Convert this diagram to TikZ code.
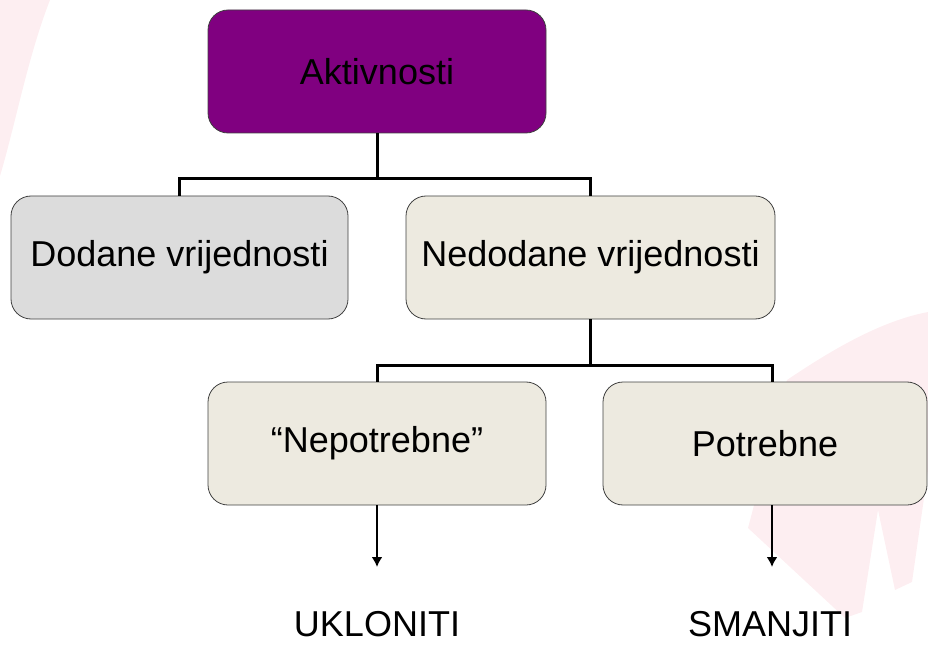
\documentclass[tikz,border=0pt]{standalone}
\usepackage{fontspec}
\setmainfont{Liberation Sans}
\usetikzlibrary{arrows.meta}
\definecolor{aktpurple}{HTML}{800080}
\definecolor{dodgray}{HTML}{DCDCDC}
\definecolor{nedbeige}{HTML}{EDEAE0}
\definecolor{bgpink}{HTML}{FDEEF1}
\tikzset{
	box/.style={draw=black!75, line width=0.8pt, rounded corners=20pt, inner sep=0pt, minimum height=123pt, font=\fontsize{36}{43}\selectfont},
	link/.style={line width=3pt},
	pointer/.style={line width=2.2pt, -{Latex[length=10pt,width=11pt]}},
	result/.style={inner sep=0pt, font=\fontsize{36}{43}\selectfont},
}

\begin{document}
\begin{tikzpicture}[x=1pt,y=1pt]
		%%%%% START %%%%%
		\useasboundingbox (0,0) rectangle (928,646);
		
		% background
		\fill[bgpink] (0,646) -- (50,646) .. controls (28,590) and (15,520) .. (0,470) -- cycle;
		\fill[bgpink] (748,118) -- (787,266) .. controls (830,295) and (880,325) .. (928,334) -- (928,176) -- (912,64) -- (895,56) -- (878,136) -- (862,34) -- (845,28) -- cycle;
		
		\node[box, fill=aktpurple, minimum width=338pt] (akt) at (377,574.5) {Aktivnosti};
		
		\node[box, fill=dodgray, minimum width=337pt] (dod) at (179.5,388.5) {Dodane vrijednosti};
		\node[box, fill=nedbeige, minimum width=369pt] (ned) at (590.5,388.5) {Nedodane vrijednosti};
		
		\node[box, fill=nedbeige, minimum width=338pt] (nep) at (377,202.5) {“Nepotrebne”};
		\node[box, fill=nedbeige, minimum width=324pt] (pot) at (765,202.5) {Potrebne};
		
		\node[result] (ukl) at (377,22) {UKLONITI};
		\node[result] (smn) at (770,22) {SMANJITI};
		
		\coordinate (bar1) at (377,467);
		\coordinate (bar2) at (590.5,281);
		\coordinate (potin) at (772,264);
		\coordinate (potout) at (772,141);
		\coordinate (uklin) at (377,79);
		\coordinate (smnin) at (772,79);
		
		\draw[link] (akt.south) -- (bar1);
		\draw[link] (dod.north) |- (bar1) -| (ned.north);
		
		\draw[link] (ned.south) -- (bar2);
		\draw[link] (nep.north) |- (bar2) -| (potin);
		
		\draw[pointer] (nep.south) -- (uklin);
		\draw[pointer] (potout) -- (smnin);
		%%%%% END %%%%%
\end{tikzpicture}
\end{document}
